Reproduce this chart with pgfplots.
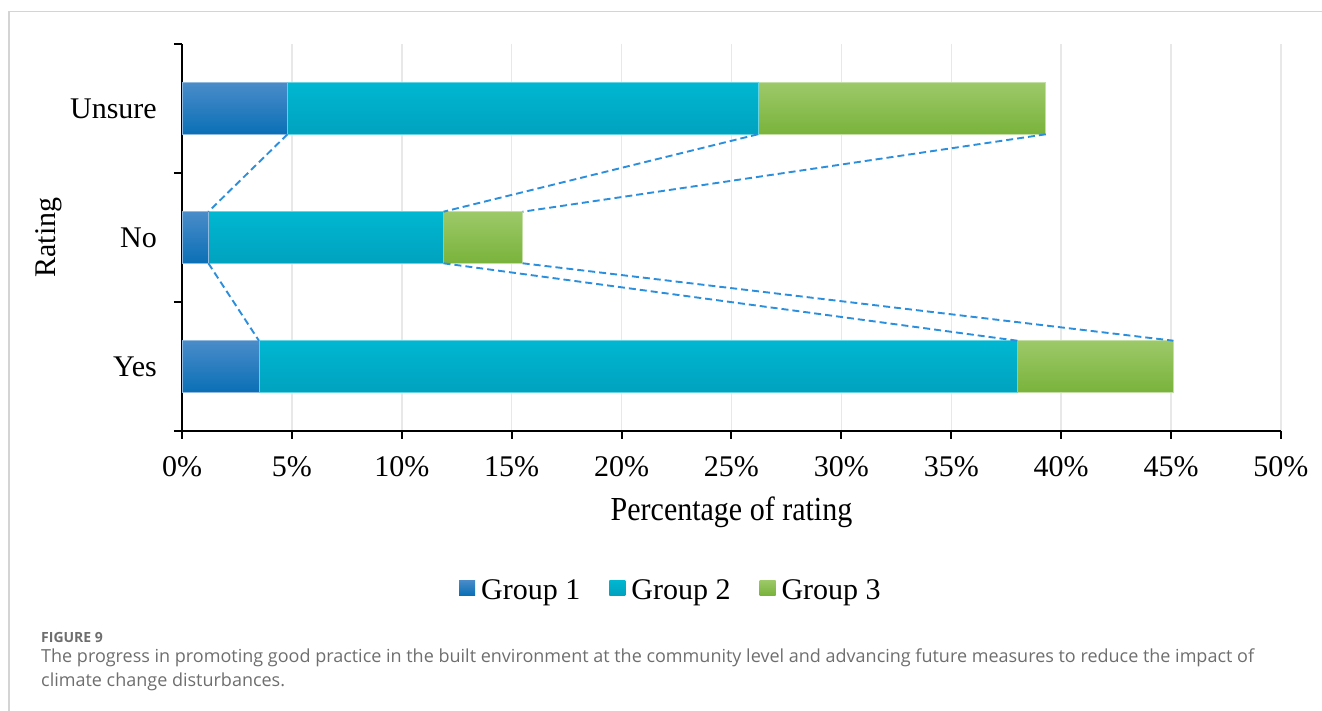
\documentclass[border=0pt]{standalone}
\usepackage{pgfplots}
\pgfplotsset{compat=1.18}
\usepackage{fontspec}
\setmainfont{Liberation Serif}
\newfontfamily\capfont{Open Sans}
\definecolor{gAt}{HTML}{4A8CC9}
\definecolor{gAb}{HTML}{0A6FB6}
\definecolor{gBt}{HTML}{00B7D1}
\definecolor{gBb}{HTML}{00A2BF}
\definecolor{gCt}{HTML}{9DC969}
\definecolor{gCb}{HTML}{79B33B}
\definecolor{serline}{HTML}{2B8FDD}
\definecolor{capgray}{HTML}{6E6E6E}
\pgfplotsset{
  barA/.style={xbar, bar shift=0pt, bar width=52bp, draw=gAt!60!white, line width=0.6bp, top color=gAt, bottom color=gAb, forget plot},
  barB/.style={xbar, bar shift=0pt, bar width=52bp, draw=gBt!60!white, line width=0.6bp, top color=gBt, bottom color=gBb, forget plot},
  barC/.style={xbar, bar shift=0pt, bar width=52bp, draw=gCt!60!white, line width=0.6bp, top color=gCt, bottom color=gCb, forget plot},
  serl/.style={serline, line width=1.9bp, dash pattern=on 7bp off 4bp},
}
\begin{document}
\begin{tikzpicture}
\path[use as bounding box] (0,0) rectangle (1322bp,711bp);
\draw[color=black!17, line width=1.5bp] (9bp,0) -- (9bp,699.5bp) -- (1322bp,699.5bp);
\begin{axis}[
  at={(182bp,280bp)}, anchor=south west,
  scale only axis, width=1099bp, height=387bp,
  xmin=0, xmax=50, ymin=-0.5, ymax=2.5,
  axis x line=bottom, axis y line=left,
  axis line style={-, line width=2.5bp, black},
  tick align=outside, major tick length=8bp,
  tick style={black, line width=2bp},
  xtick={0,5,...,50},
  xticklabel={\pgfmathprintnumber{\tick}\%},
  /pgf/number format/assume math mode=true,
  ytick={-0.5,0.5,1.5,2.5}, yticklabels={},
  extra y ticks={0,1,2}, extra y tick labels={Yes,No,Unsure},
  extra y tick style={major tick length=0pt, yticklabel style={anchor=east, inner sep=0pt, xshift=-25bp}},
  xticklabel style={anchor=base, inner sep=0pt},
  every x tick label/.append style={yshift=-37bp},
  tick label style={font=\fontsize{30bp}{36bp}\selectfont},
  xmajorgrids, major grid style={color=black!9, line width=1.5bp},
  every axis x label/.style={at={(axis description cs:0.5,-0.23)}, anchor=base},
  every axis y label/.style={at={(axis description cs:-0.1212,0.5)}, rotate=90, anchor=center},
  label style={font=\fontsize{30bp}{36bp}\selectfont},
  xlabel={\scalebox{1}[1.12]{Percentage of rating}},
  ylabel={Rating},
  legend columns=3,
  legend style={draw=none, fill=none, at={(axis description cs:0.444,-0.411)}, anchor=center,
    font=\fontsize{30bp}{36bp}\selectfont, nodes={inner sep=0pt},
    /tikz/every odd column/.append style={column sep=6bp},
    /tikz/every even column/.append style={column sep=29bp}},
  legend image code/.code={\path[#1] (0bp,-5bp) rectangle (16bp,10bp);},
]
\addlegendimage{draw=none, top color=gAt, bottom color=gAb}
\addlegendimage{draw=none, top color=gBt, bottom color=gBb}
\addlegendimage{draw=none, top color=gCt, bottom color=gCb}
% cumulative bar ends (Group 1, Group 1+2, Group 1+2+3); y: 0 = Yes, 1 = No, 2 = Unsure
\addplot[barC] coordinates {(45.1,0)};
\addplot[barC] coordinates {(15.5,1)};
\addplot[barC] coordinates {(39.3,2)};
\addplot[barB] coordinates {(38.0,0)};
\addplot[barB] coordinates {(11.9,1)};
\addplot[barB] coordinates {(26.2,2)};
\addplot[barA] coordinates {(3.5,0)};
\addplot[barA] coordinates {(1.2,1)};
\addplot[barA] coordinates {(4.8,2)};
\legend{Group 1,Group 2,Group 3}
\end{axis}
\begin{axis}[
  at={(182bp,280bp)}, anchor=south west,
  scale only axis, width=1099bp, height=387bp,
  xmin=0, xmax=50, ymin=-0.5, ymax=2.5,
  hide axis, clip=false,
]
\addplot[serl] coordinates {(4.8,1.8) (1.2,1.2)};
\addplot[serl] coordinates {(1.2,0.8) (3.5,0.2)};
\addplot[serl] coordinates {(26.2,1.8) (11.9,1.2)};
\addplot[serl] coordinates {(11.9,0.8) (38.0,0.2)};
\addplot[serl] coordinates {(39.3,1.8) (15.5,1.2)};
\addplot[serl] coordinates {(15.5,0.8) (45.1,0.2)};
\end{axis}
\node[anchor=base west, inner sep=0pt, text=capgray, font=\capfont\bfseries\fontsize{14bp}{16bp}\selectfont] at (41bp,68bp) {FIGURE 9};
\node[anchor=base west, inner sep=0pt, text=capgray, font=\capfont\fontsize{18bp}{21bp}\selectfont] at (41bp,48bp) {The progress in promoting good practice in the built environment at the community level and advancing future measures to reduce the impact of};
\node[anchor=base west, inner sep=0pt, text=capgray, font=\capfont\fontsize{18bp}{21bp}\selectfont] at (41bp,24.5bp) {climate change disturbances.};
\end{tikzpicture}
\end{document}
